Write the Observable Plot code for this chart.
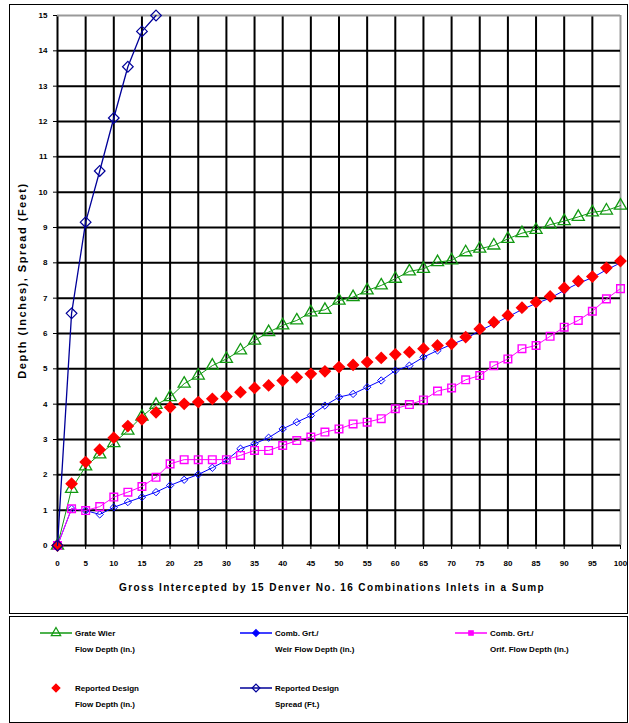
<!DOCTYPE html>
<html><head><meta charset="utf-8">
<script src="https://cdn.jsdelivr.net/npm/d3@7"></script>
<script src="https://cdn.jsdelivr.net/npm/@observablehq/plot@0.6"></script>
<style>
body{margin:0;background:#fff;font-family:"Liberation Sans",Arial,sans-serif;}
#wrap{position:relative;width:629px;height:723px;overflow:hidden;background:#fff;}
#chart{position:absolute;left:0;top:0;}
#legend{position:absolute;left:0;top:0;}
.box{position:absolute;border:1.5px solid #000;box-sizing:border-box;}
</style></head><body><div id="wrap"><div id="chart"></div><svg id="legend" width="629" height="723"></svg></div>
<script>
// ---- data ----
const flowX = [0,2.5,5,7.5,10,12.5,15,17.5,20,22.5,25,27.5,30,32.5,35,37.5,40,42.5,45,47.5,50,52.5,55,57.5,60,62.5,65,67.5,70,72.5,75,77.5,80,82.5,85,87.5,90,92.5,95,97.5,100];
const grateWeirDepth = [0,1.6,2.24,2.58,2.9,3.25,3.65,3.98,4.2,4.58,4.81,5.09,5.28,5.52,5.8,6.04,6.23,6.37,6.6,6.67,6.93,7.03,7.22,7.36,7.55,7.76,7.83,8.02,8.07,8.3,8.4,8.49,8.68,8.84,8.93,9.08,9.18,9.3,9.43,9.48,9.62];
const combWeirDepth = [0,1.04,0.99,0.88,1.08,1.23,1.37,1.51,1.7,1.86,2.01,2.2,2.41,2.74,2.88,3.05,3.3,3.49,3.68,3.96,4.2,4.29,4.48,4.67,4.95,5.09,5.33,5.52,5.69,5.85,6.08,6.27,6.47,6.68,6.85,7.0,7.22,7.42,7.58,7.8,8.0];
const combOrifDepth = [0,1.04,0.99,1.1,1.37,1.51,1.67,1.93,2.31,2.43,2.43,2.43,2.43,2.55,2.69,2.69,2.83,2.97,3.07,3.21,3.3,3.44,3.49,3.59,3.87,3.99,4.12,4.37,4.46,4.69,4.81,5.09,5.28,5.57,5.66,5.92,6.18,6.37,6.63,6.98,7.27];
const reportedDepth = [0,1.75,2.36,2.71,3.05,3.38,3.57,3.77,3.91,4.01,4.06,4.15,4.22,4.34,4.46,4.53,4.67,4.76,4.86,4.93,5.05,5.11,5.19,5.31,5.41,5.47,5.57,5.66,5.71,5.9,6.13,6.32,6.51,6.73,6.89,7.05,7.29,7.48,7.61,7.86,8.05];
const spreadX = [0,2.5,5,7.5,10,12.5,15,17.5];
const reportedSpread = [0,6.57,9.15,10.6,12.1,13.55,14.55,15.0];
const xTicks = [0,5,10,15,20,25,30,35,40,45,50,55,60,65,70,75,80,85,90,95,100];
const yTicks = [0,1,2,3,4,5,6,7,8,9,10,11,12,13,14,15];
const xLabel = "Gross Intercepted by 15 Denver No. 16 Combinations Inlets in a Sump";
const yLabel = "Depth (Inches), Spread (Feet)";
const legendItems = [
  {l1:"Grate Wier", l2:"Flow Depth (in.)"},
  {l1:"Comb. Grt./", l2:"Weir Flow Depth (in.)"},
  {l1:"Comb. Grt./", l2:"Orif. Flow Depth (in.)"},
  {l1:"Reported Design", l2:"Flow Depth (in.)"},
  {l1:"Reported Design", l2:"Spread (Ft.)"}
];

// ---- styles ----
const C = {green:"#129912", blue:"#0000ff", magenta:"#ff00ff", red:"#ff0000", navy:"#000099"};
const toRows = (xs, ys) => xs.map((x,i)=>({x, y: ys[i]}));
const green = toRows(flowX, grateWeirDepth);
const blue = toRows(flowX, combWeirDepth);
const mag = toRows(flowX, combOrifDepth);
const red = toRows(flowX, reportedDepth);
const navy = toRows(spreadX, reportedSpread);

const chart = Plot.plot({
  width: 629, height: 614,
  marginLeft: 57, marginRight: 9, marginTop: 15, marginBottom: 69,
  style: {fontFamily:"'Liberation Sans', Arial, sans-serif", fontSize:"8px", fontWeight:"bold", background:"transparent", color:"#000"},
  x: {domain:[0,100], ticks: xTicks, tickSize: 4, tickPadding: 11, label: null, tickFormat: d => String(d)},
  y: {domain:[0,15], ticks: yTicks, tickSize: 4, tickPadding: 6, label: null, tickFormat: d => String(d)},
  marks: [
    Plot.ruleX(xTicks, {stroke: d => d === 100 ? "#999" : "#000", strokeWidth: 2, strokeOpacity: 1}),
    Plot.ruleY(yTicks, {stroke: d => d === 15 ? "#999" : "#000", strokeWidth: 2, strokeOpacity: 1}),
    Plot.line(green, {x:"x", y:"y", stroke:C.green, strokeWidth:1}),
    Plot.dot(green, {x:"x", y:"y", symbol:"triangle", stroke:C.green, fill:"none", r:4.5, strokeWidth:1.3}),
    Plot.line(blue, {x:"x", y:"y", stroke:C.blue, strokeWidth:1}),
    Plot.dot(blue, {x:"x", y:"y", symbol:"diamond2", stroke:C.blue, fill:"none", r:3.3, strokeWidth:1}),
    Plot.line(mag, {x:"x", y:"y", stroke:C.magenta, strokeWidth:1}),
    Plot.dot(mag, {x:"x", y:"y", symbol:"square", stroke:C.magenta, fill:"none", r:4.3, strokeWidth:1.4}),
    Plot.dot(red, {x:"x", y:"y", symbol:"diamond2", fill:C.red, stroke:C.red, r:4.8}),
    Plot.line(navy, {x:"x", y:"y", stroke:C.navy, strokeWidth:1.3}),
    Plot.dot(navy, {x:"x", y:"y", symbol:"diamond2", stroke:C.navy, fill:"none", r:4.8, strokeWidth:1.2}),
    Plot.text([xLabel], {frameAnchor:"bottom", dy:45, dx:-7, fontSize:10, fontWeight:"bold", fill:"#000"}),
    Plot.text([yLabel], {frameAnchor:"left", textAnchor:"middle", rotate:-90, dx:-35, fontSize:11, fontWeight:"bold", fill:"#000"})
  ]
});
document.getElementById("chart").appendChild(chart);
d3.select(chart).selectAll("text").filter(function(){return this.textContent === xLabel;}).style("letter-spacing","1.4px");
d3.select(chart).selectAll("text").filter(function(){return this.textContent === yLabel;}).style("letter-spacing","1.5px");

// boxes
const wrap = document.getElementById("wrap");
function addBox(l,t,w,h){const d=document.createElement("div");d.className="box";Object.assign(d.style,{left:l+"px",top:t+"px",width:w+"px",height:h+"px"});wrap.appendChild(d);}
addBox(9,4,619,610);
addBox(9,616,619,107);

// legend
const lg = d3.select("#legend");
const pos = [
  {x:40, y:633, color:C.green, sym:d3.symbolTriangle, r:3.5, fill:"none", line:true},
  {x:240, y:633, color:C.blue, sym:d3.symbolDiamond2, r:3, fill:C.blue, line:true},
  {x:455, y:633, color:C.magenta, sym:d3.symbolSquare, r:2.5, fill:C.magenta, line:true},
  {x:40, y:688, color:C.red, sym:d3.symbolDiamond2, r:3.5, fill:C.red, line:false},
  {x:240, y:688, color:C.navy, sym:d3.symbolDiamond2, r:3.5, fill:"none", line:true}
];
legendItems.forEach((it,i)=>{
  const p = pos[i];
  const g = lg.append("g");
  if (p.line) g.append("line").attr("x1",p.x).attr("x2",p.x+32).attr("y1",p.y).attr("y2",p.y).attr("stroke",p.color).attr("stroke-width",1.5);
  g.append("path").attr("d", d3.symbol(p.sym, p.r*p.r*Math.PI)()).attr("transform",`translate(${p.x+16},${p.y})`)
    .attr("fill",p.fill).attr("stroke",p.color).attr("stroke-width",1.2);
  const tx = p.x + 35;
  g.append("text").attr("x",tx).attr("y",p.y+3).text(it.l1).attr("font-size",8).attr("font-weight","bold").attr("font-family","'Liberation Sans', Arial, sans-serif");
  g.append("text").attr("x",tx).attr("y",p.y+19).text(it.l2).attr("font-size",8).attr("font-weight","bold").attr("font-family","'Liberation Sans', Arial, sans-serif");
});
</script>
</body></html>
